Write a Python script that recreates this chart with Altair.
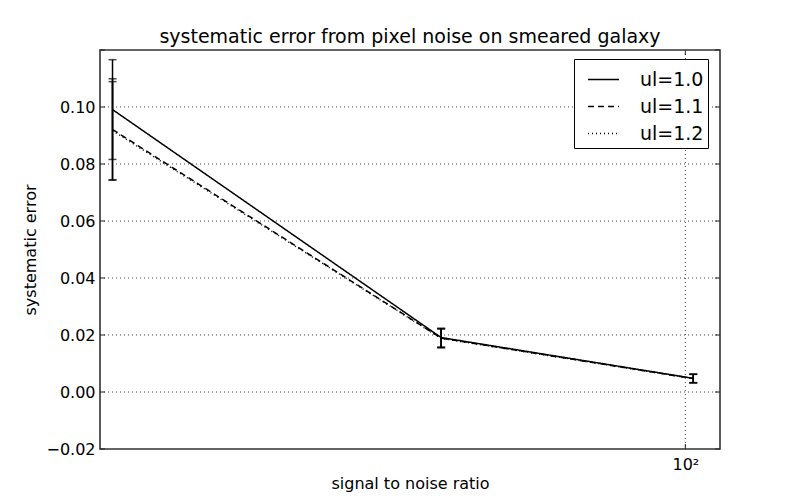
import altair as alt
import pandas as pd

# ---- data ----
series = ["ul=1.0", "ul=1.1", "ul=1.2"]
snr = [20.7, 51.1, 102.2]
err_10 = [0.0991, 0.0191, 0.0048]
sig_10 = [0.0175, 0.0033, 0.0015]
err_11 = [0.0921, 0.0189, 0.0047]
sig_11 = [0.0178, 0.0033, 0.0015]
err_12 = [0.0917, 0.0188, 0.0047]
sig_12 = [0.0172, 0.0033, 0.0015]

y_ticks = [-0.02, 0.0, 0.02, 0.04, 0.06, 0.08, 0.10, 0.12]
y_labels = [-0.02, 0.0, 0.02, 0.04, 0.06, 0.08, 0.10]
y_grid = [0.0, 0.02, 0.04, 0.06, 0.08, 0.10]
x_major = [100]

rows = []
for name, ys, ss in zip(series, [err_10, err_11, err_12], [sig_10, sig_11, sig_12]):
    for x, y, s in zip(snr, ys, ss):
        rows.append({"series": name, "snr": x, "err": y, "lo": y - s, "hi": y + s})
df = pd.DataFrame(rows)

W, H = 620, 399
FONT = "DejaVu Sans"

xscale = alt.Scale(type="log", domain=[20, 110], nice=False)
yscale = alt.Scale(domain=[-0.02, 0.12], nice=False, zero=False)

xaxis = alt.Axis(values=x_major, labelExpr="'10²'", ticks=False, domain=False, grid=False,
                 labelFontSize=16, labelFont=FONT, labelColor="black", labelPadding=7,
                 title="signal to noise ratio", titleFontSize=16, titleFont=FONT,
                 titleFontWeight="normal", titleColor="black", titlePadding=3)
yaxis = alt.Axis(values=y_labels, format=".2f", ticks=False, domain=False, grid=False,
                 labelFontSize=16, labelFont=FONT, labelColor="black", labelPadding=5,
                 title="systematic error", titleFontSize=16, titleFont=FONT,
                 titleFontWeight="normal", titleColor="black", titlePadding=7)

gc = "#444"
ygdf = pd.DataFrame({"v": y_grid})
xgdf = pd.DataFrame({"v": x_major})
grid_y = alt.Chart(ygdf).mark_rule(color=gc, strokeWidth=1, strokeDash=[1, 3]).encode(
    y=alt.Y("v:Q", scale=yscale, axis=yaxis), x=alt.value(0), x2=alt.value(W))
grid_x = alt.Chart(xgdf).mark_rule(color=gc, strokeWidth=1, strokeDash=[1, 3]).encode(
    x=alt.X("v:Q", scale=xscale, axis=xaxis), y=alt.value(0), y2=alt.value(H))

base = alt.Chart(df)

lines = base.mark_line(color="black", strokeWidth=1.5).encode(
    x=alt.X("snr:Q", scale=xscale, axis=xaxis),
    y=alt.Y("err:Q", scale=yscale, axis=yaxis),
    strokeDash=alt.StrokeDash("series:N",
                              scale=alt.Scale(domain=series, range=[[1, 0], [6, 4], [1, 3]]),
                              legend=alt.Legend(title=None, orient="none", legendX=474, legendY=9,
                                                symbolType="stroke", symbolSize=961,
                                                symbolStrokeColor="black", symbolStrokeWidth=1.3,
                                                symbolOffset=9,
                                                labelFontSize=19, labelFont=FONT, labelColor="black",
                                                labelOffset=20, rowPadding=0, padding=4,
                                                strokeColor="black", fillColor="white")),
)

bars = base.mark_rule(color="black", strokeWidth=1.5).encode(
    x=alt.X("snr:Q", axis=xaxis), y=alt.Y("lo:Q", axis=yaxis), y2="hi:Q")
cap_lo = base.mark_tick(color="black", orient="horizontal", size=8, thickness=1.5).encode(
    x=alt.X("snr:Q", axis=xaxis), y=alt.Y("lo:Q", axis=yaxis))
cap_hi = base.mark_tick(color="black", orient="horizontal", size=8, thickness=1.5).encode(
    x=alt.X("snr:Q", axis=xaxis), y=alt.Y("hi:Q", axis=yaxis))

ydf = pd.DataFrame({"v": y_ticks})
xmaj = pd.DataFrame({"v": x_major})
tc = "#222"
tick_left = alt.Chart(ydf).mark_rule(color=tc, strokeWidth=1).encode(
    y=alt.Y("v:Q", axis=yaxis), x=alt.value(0), x2=alt.value(5))
tick_right = alt.Chart(ydf).mark_rule(color=tc, strokeWidth=1).encode(
    y=alt.Y("v:Q", axis=yaxis), x=alt.value(W - 5), x2=alt.value(W))
tick_bmaj = alt.Chart(xmaj).mark_rule(color=tc, strokeWidth=1).encode(
    x=alt.X("v:Q", axis=xaxis), y=alt.value(H - 5), y2=alt.value(H))
tick_tmaj = alt.Chart(xmaj).mark_rule(color=tc, strokeWidth=1).encode(
    x=alt.X("v:Q", axis=xaxis), y=alt.value(1), y2=alt.value(5))

chart = alt.layer(
    grid_y, grid_x,
    lines, bars, cap_lo, cap_hi,
    tick_left, tick_right, tick_bmaj, tick_tmaj,
).properties(
    width=W, height=H,
    title=alt.Title("systematic error from pixel noise on smeared galaxy",
                    fontSize=19, font=FONT, fontWeight="normal", color="black",
                    anchor="middle", offset=3),
    autosize=alt.AutoSizeParams(type="none"),
    padding={"left": 92, "top": 42, "right": 72, "bottom": 43},
    background="white",
).configure_view(
    stroke="#333", strokeWidth=1.6
)

chart.save("out.html", embed_options={"renderer": "svg", "actions": False})
